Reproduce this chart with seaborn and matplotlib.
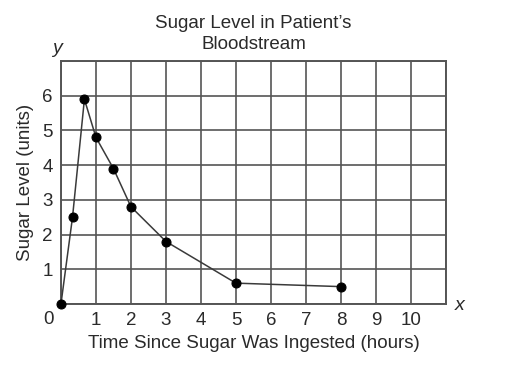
import pandas as pd
import seaborn as sns
import matplotlib
matplotlib.use("Agg")
import matplotlib.pyplot as plt

# data
hours = [0, 0.33, 0.67, 1, 1.5, 2, 3, 5, 8]
sugar = [0, 2.5, 5.9, 4.8, 3.9, 2.8, 1.8, 0.6, 0.5]
x_ticks = [1, 2, 3, 4, 5, 6, 7, 8, 9, 10]
y_ticks = [1, 2, 3, 4, 5, 6]

data = pd.DataFrame({"hours": hours, "sugar": sugar})

sns.set_style("white")
plt.rcParams['font.family'] = ['Liberation Sans', 'DejaVu Sans']
txt = "#2a2a2a"

fig = plt.figure(figsize=(5.08, 3.68), dpi=100)
ax = fig.add_axes([0.120, 0.174, 0.758, 0.660])

sns.lineplot(x="hours", y="sugar", data=data, color="#3a3a3a", linewidth=1.1,
             marker="o", markersize=6.5, markerfacecolor="black",
             markeredgecolor="black", ax=ax, zorder=3, clip_on=False)

ax.set_xlim(0, 11)
ax.set_ylim(0, 7)
ax.set_xticks(range(0, 12))
ax.set_yticks(range(0, 8))
ax.grid(True, color="#555555", linewidth=1.2)
ax.set_axisbelow(True)
for s in ax.spines.values():
    s.set_color("#555555")
    s.set_linewidth(1.4)

ax.set_xticklabels([""] + [str(t) for t in x_ticks] + [""])
ax.set_yticklabels([""] + [str(t) for t in y_ticks] + [""])
ax.tick_params(length=0, labelsize=13.5, pad=6, colors=txt)

ax.text(-0.35, -0.45, "0", fontsize=13.5, ha="center", va="center", color=txt)
ax.text(11.25, -0.05, "x", fontsize=14, style="italic", ha="left", va="center", color=txt)
ax.text(-0.1, 7.35, "y", fontsize=14, style="italic", ha="center", va="center", color=txt)

ax.set_title("Sugar Level in Patient\u2019s\nBloodstream", fontsize=13.5, color=txt,
             pad=9, linespacing=1.3)
ax.set_xlabel("Time Since Sugar Was Ingested (hours)", fontsize=13.5, color=txt, labelpad=4)
ax.set_ylabel("Sugar Level (units)", fontsize=13.5, color=txt, labelpad=6)

fig.savefig("out.png", dpi=100)
